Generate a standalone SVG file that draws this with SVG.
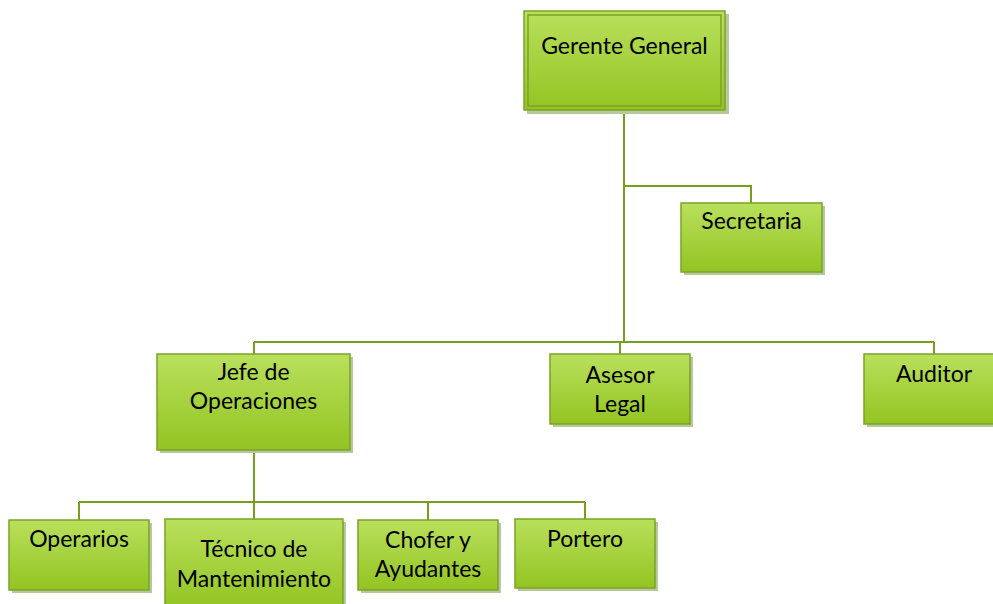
<svg xmlns="http://www.w3.org/2000/svg" width="993" height="604" viewBox="0 0 993 604">
<defs>
<linearGradient id="g" x1="0" y1="0" x2="0" y2="1">
<stop offset="0" stop-color="#b9e05c"/>
<stop offset="1" stop-color="#93c422"/>
</linearGradient>
<style>
.sh{fill:#b7c99c}
.bx{fill:url(#g);stroke:#7ba228;stroke-width:1.5}
.in{fill:none;stroke:#7ba228;stroke-width:1.5}
.t{font-family:Lato,"Liberation Sans",sans-serif;font-size:23px;fill:#000;text-anchor:middle}
.c{fill:none;stroke:#76a01c;stroke-width:2}
</style>
</defs>
<rect width="993" height="604" fill="#fff"/>
<g id="connectors">
<path class="c" d="M624 111V342M624 186H751V203M254 342H934M254 342V354M620 342V354M934 342V354M254 450V502M79 502H585M79 502V520M254 502V519M428 502V520M585 502V519"/>
</g>
<g id="gerente">
<rect class="sh" x="527" y="14" width="202" height="100"/>
<rect class="bx" x="524" y="11" width="201" height="99"/>
<rect class="in" x="528" y="15" width="193" height="91"/>
<text class="t" x="624.5" y="54">Gerente General</text>
</g>
<g id="secretaria">
<rect class="sh" x="684" y="206" width="141" height="69"/>
<rect class="bx" x="681" y="203" width="141" height="69"/>
<text class="t" x="751.5" y="229">Secretaria</text>
</g>
<g id="jefe">
<rect class="sh" x="160" y="357" width="193" height="96"/>
<rect class="bx" x="157" y="354" width="193" height="96"/>
<text class="t" x="253.5" y="380">Jefe de</text>
<text class="t" x="253.5" y="409">Operaciones</text>
</g>
<g id="asesor">
<rect class="sh" x="553" y="357" width="140" height="70"/>
<rect class="bx" x="550" y="354" width="140" height="70"/>
<text class="t" x="620" y="383">Asesor</text>
<text class="t" x="620" y="412">Legal</text>
</g>
<g id="auditor">
<rect class="sh" x="867" y="357" width="140" height="70"/>
<rect class="bx" x="864" y="354" width="140" height="70"/>
<text class="t" x="934" y="382">Auditor</text>
</g>
<g id="operarios">
<rect class="sh" x="12" y="523" width="140" height="70"/>
<rect class="bx" x="9" y="520" width="140" height="70"/>
<text class="t" x="79" y="547">Operarios</text>
</g>
<g id="tecnico">
<rect class="sh" x="168" y="522" width="178" height="90"/>
<rect class="bx" x="165" y="519" width="178" height="90"/>
<text class="t" x="254" y="557">Técnico de</text>
<text class="t" x="254" y="587">Mantenimiento</text>
</g>
<g id="chofer">
<rect class="sh" x="361" y="523" width="140" height="70"/>
<rect class="bx" x="358" y="520" width="140" height="70"/>
<text class="t" x="428" y="548">Chofer y</text>
<text class="t" x="428" y="577">Ayudantes</text>
</g>
<g id="portero">
<rect class="sh" x="518" y="522" width="140" height="69"/>
<rect class="bx" x="515" y="519" width="140" height="69"/>
<text class="t" x="585" y="547">Portero</text>
</g>
</svg>
